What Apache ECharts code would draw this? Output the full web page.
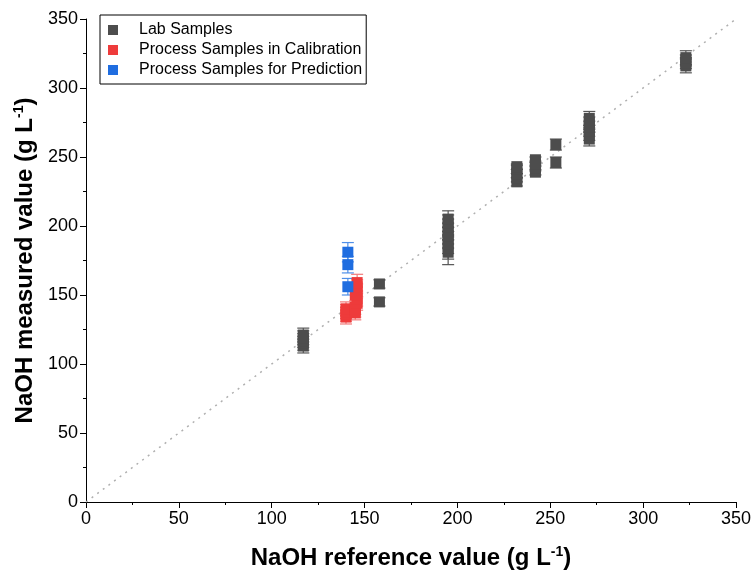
<!DOCTYPE html>
<html>
<head>
<meta charset="utf-8">
<script src="https://cdn.jsdelivr.net/npm/echarts@6/dist/echarts.min.js"></script>
<style>
  html, body { margin: 0; padding: 0; background: #fff; }
  #chart { width: 752px; height: 572px; }
</style>
</head>
<body>
<div id="chart"></div>
<script>
// Lab samples
var labX = [117, 117, 117, 117, 117,
  158, 158,
  195, 195, 195, 195, 195, 195, 195, 195, 195,
  232, 232, 232, 232, 232,
  242, 242, 242, 242,
  253, 253,
  271, 271, 271, 271, 271, 271,
  323, 323, 323, 323]
var labY = [113, 115, 117, 119, 121,
  158, 145,
  181, 184, 187, 190, 193, 196, 199, 202, 205,
  232, 235, 238, 241, 243,
  239, 242, 245, 248,
  259, 246,
  263, 266, 269, 272, 275, 278,
  316, 318, 320, 322]
var labErr = [5, 5, 5, 5, 5,
  3, 3,
  9, 8, 7, 6, 6, 6, 6, 6, 6,
  3, 3, 3, 3, 2,
  2, 2, 2, 2,
  4, 4,
  5, 4, 4, 4, 4, 5,
  5, 4, 4, 5]

// Process samples in calibration
var calX = [140, 140, 140, 140, 145, 145, 145, 146, 146, 145, 146, 146, 146]
var calY = [134, 136, 138, 140, 137, 139, 141, 144, 147, 150, 153, 156, 159]
var calErr = [5, 5, 5, 5, 5, 5, 5, 5, 5, 5, 5, 5, 6]

// Process samples for prediction
var predX = [141, 141, 141]
var predY = [181, 172, 156]
var predErr = [7, 6, 6]

var refLine = [[0, 0], [350, 350]]

function points(xs, ys) {
  return xs.map(function (x, i) { return [x, ys[i]] })
}
function bars(xs, ys, es) {
  return xs.map(function (x, i) { return [x, ys[i] - es[i], ys[i] + es[i]] })
}

function errorSeries(data, color) {
  return {
    type: 'custom',
    silent: true,
    z: 3,
    data: data,
    encode: { x: 0, y: [1, 2] },
    renderItem: function (params, api) {
      var lo = api.coord([api.value(0), api.value(1)])
      var hi = api.coord([api.value(0), api.value(2)])
      var w = 6
      var style = { stroke: color, lineWidth: 1.2 }
      return {
        type: 'group',
        children: [
          { type: 'line', shape: { x1: lo[0], y1: lo[1], x2: hi[0], y2: hi[1] }, style: style },
          { type: 'line', shape: { x1: lo[0] - w, y1: lo[1], x2: lo[0] + w, y2: lo[1] }, style: style },
          { type: 'line', shape: { x1: hi[0] - w, y1: hi[1], x2: hi[0] + w, y2: hi[1] }, style: style }
        ]
      }
    }
  }
}

var axisText = { color: '#000', fontSize: 18, fontFamily: 'Liberation Sans' }
var nameRich = {
  n: { fontSize: 24, fontWeight: 'bold', fontFamily: 'Liberation Sans', color: '#000' },
  s: { fontSize: 14, fontWeight: 'bold', fontFamily: 'Liberation Sans', color: '#000', verticalAlign: 'top', padding: [0, 0, 12, 0] }
}

var chart = echarts.init(document.getElementById('chart'))
chart.setOption({
  animation: false,
  grid: { left: 86, right: 16, top: 19, bottom: 70, outerBoundsMode: 'none', containLabel: false },
  legend: {
    data: ['Lab Samples', 'Process Samples in Calibration', 'Process Samples for Prediction'],
    orient: 'vertical',
    left: 100,
    top: 15,
    itemWidth: 10,
    itemHeight: 10,
    itemGap: 4,
    padding: [7, 4, 6, 8],
    icon: 'rect',
    borderColor: '#000',
    borderWidth: 1,
    borderRadius: 0,
    textStyle: { fontSize: 16, color: '#000', fontFamily: 'Liberation Sans', padding: [0, 0, 0, 16] }
  },
  xAxis: {
    type: 'value',
    min: 0,
    max: 350,
    interval: 50,
    name: '{n|NaOH reference value (g L}{s|-1}{n|)}',
    nameLocation: 'middle',
    nameGap: 43,
    nameTextStyle: { rich: nameRich },
    axisLine: { show: true, lineStyle: { color: '#000', width: 1 } },
    axisTick: { show: true, inside: false, length: 6, lineStyle: { color: '#000' } },
    minorTick: { show: true, splitNumber: 2, length: 3, lineStyle: { color: '#000' } },
    axisLabel: axisText,
    splitLine: { show: false }
  },
  yAxis: {
    type: 'value',
    min: 0,
    max: 350,
    interval: 50,
    name: '{n|NaOH measured value (g L}{s|-1}{n|)}',
    nameLocation: 'middle',
    nameGap: 41,
    nameTextStyle: { rich: nameRich },
    axisLine: { show: true, lineStyle: { color: '#000', width: 1 } },
    axisTick: { show: true, inside: false, length: 6, lineStyle: { color: '#000' } },
    minorTick: { show: true, splitNumber: 2, length: 3, lineStyle: { color: '#000' } },
    axisLabel: axisText,
    splitLine: { show: false }
  },
  series: [
    {
      type: 'line',
      data: refLine,
      symbol: 'none',
      silent: true,
      z: 1,
      lineStyle: { color: '#b0b0b0', width: 1.5, type: [2, 5] }
    },
    errorSeries(bars(labX, labY, labErr), '#555555'),
    errorSeries(bars(calX, calY, calErr), '#f27a7a'),
    errorSeries(bars(predX, predY, predErr), '#4f8fe8'),
    {
      name: 'Lab Samples',
      type: 'scatter',
      symbol: 'rect',
      symbolSize: 11,
      z: 4,
      itemStyle: { color: '#4d4d4d', opacity: 1 },
      data: points(labX, labY)
    },
    {
      name: 'Process Samples in Calibration',
      type: 'scatter',
      symbol: 'rect',
      symbolSize: 11,
      z: 4,
      itemStyle: { color: '#ee3b3b', opacity: 1 },
      data: points(calX, calY)
    },
    {
      name: 'Process Samples for Prediction',
      type: 'scatter',
      symbol: 'rect',
      symbolSize: 11,
      z: 4,
      itemStyle: { color: '#1f6de0', opacity: 1 },
      data: points(predX, predY)
    }
  ]
})
</script>
</body>
</html>
